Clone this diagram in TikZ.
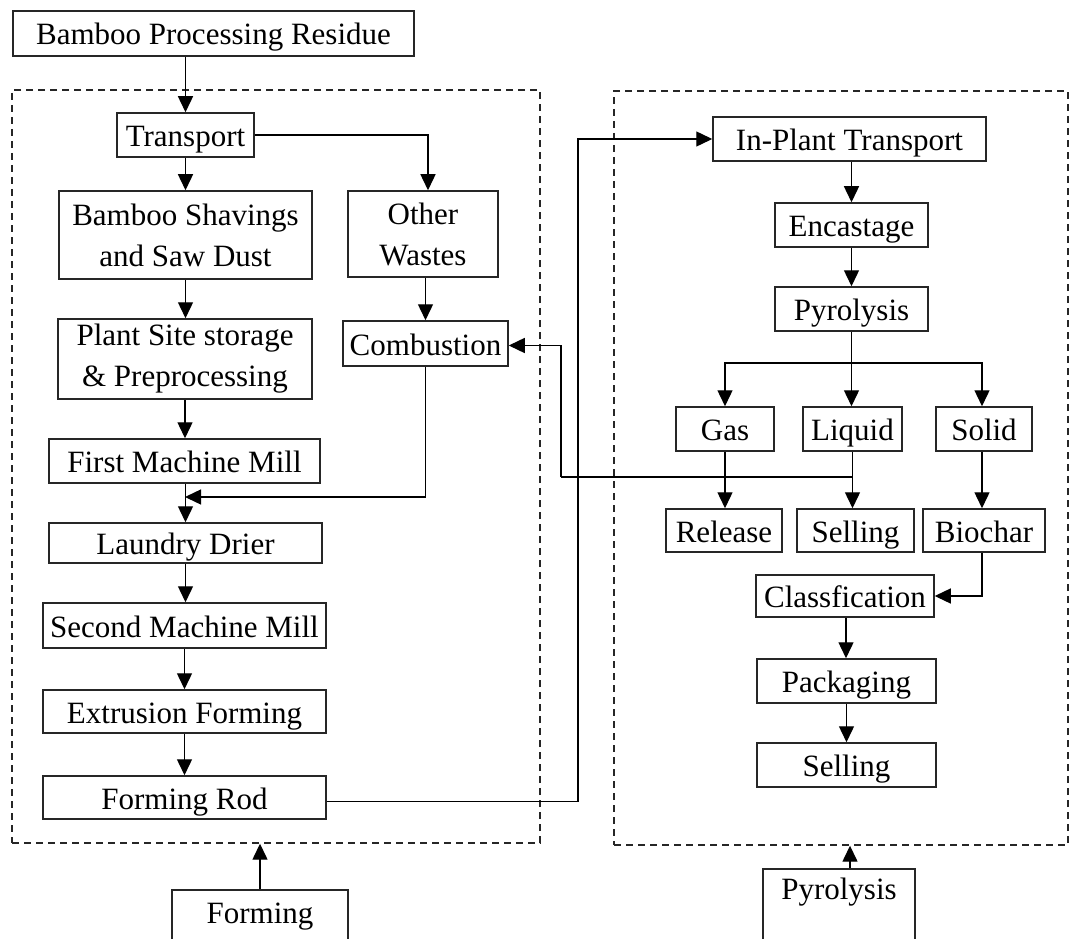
\documentclass[tikz,border=0pt]{standalone}
\usepackage{fontspec}
\setmainfont{Liberation Serif}
\usetikzlibrary{arrows.meta}
\begin{document}
\begin{tikzpicture}[x=1pt,y=-1pt,
  box/.style={draw=black!85, line width=1.5pt, fill=white, inner sep=0pt, align=center, font=\fontsize{31}{41}\selectfont},
  one/.style={box, text height=23pt, text depth=0pt},
  grp/.style={draw=black!85, line width=1.4pt, dash pattern=on 7pt off 5pt, inner sep=0pt},
  arr/.style={line width=1.4pt, -{Triangle[length=16pt,width=15pt]}},
  ln/.style={line width=1.4pt}]
\useasboundingbox (0,0) rectangle (1074,939);
\clip (0,0) rectangle (1074,939);
% groups
\node[grp, minimum width=528pt, minimum height=753pt] (lgrp) at (276,466.5) {};
\node[grp, minimum width=454pt, minimum height=754pt] (rgrp) at (841,468) {};
% left column
\node[one, minimum width=401pt, minimum height=45pt] (bpr) at (213.5,33.5) {Bamboo Processing Residue};
\node[one, minimum width=137pt, minimum height=44pt] (transport) at (185.5,135) {Transport};
\node[box, minimum width=253pt, minimum height=88pt] (shavings) at (185.5,235) {Bamboo Shavings\\and Saw Dust};
\node[box, minimum width=254pt, minimum height=80pt] (plant) at (185,359) {Plant Site storage\\\& Preprocessing};
\node[box, minimum width=150pt, minimum height=86pt] (other) at (423,234) {Other\\Wastes};
\node[one, minimum width=165pt, minimum height=45pt] (comb) at (425.5,343.5) {Combustion};
\node[one, minimum width=271pt, minimum height=44pt] (fmm) at (184.5,461) {First Machine Mill};
\node[one, minimum width=273pt, minimum height=40pt] (laundry) at (185.5,543) {Laundry Drier};
\node[one, minimum width=283pt, minimum height=45pt] (smm) at (184.5,625.5) {Second Machine Mill};
\node[one, minimum width=283pt, minimum height=43pt] (extr) at (184.5,711.5) {Extrusion Forming};
\node[one, minimum width=283pt, minimum height=43pt] (rod) at (184.5,797.5) {Forming Rod};
\node[box, anchor=north, minimum width=176pt, text height=34pt, text depth=40pt] (forming) at (260,889) {Forming};
% right column
\node[one, minimum width=273pt, minimum height=44pt] (inplant) at (849.5,139) {In-Plant Transport};
\node[one, minimum width=153pt, minimum height=44pt] (encast) at (851.5,225) {Encastage};
\node[one, minimum width=153pt, minimum height=44pt] (pyro) at (851.5,309) {Pyrolysis};
\node[one, minimum width=98pt, minimum height=44pt] (gas) at (725,429) {Gas};
\node[one, minimum width=99pt, minimum height=44pt] (liquid) at (852.5,429) {Liquid};
\node[one, minimum width=96pt, minimum height=44pt] (solid) at (984,429) {Solid};
\node[one, minimum width=116pt, minimum height=43pt] (release) at (724,530.5) {Release};
\node[one, minimum width=117pt, minimum height=43pt] (sell1) at (855.5,530.5) {Selling};
\node[one, minimum width=122pt, minimum height=43pt] (biochar) at (984,530.5) {Biochar};
\node[one, minimum width=178pt, minimum height=42pt] (classf) at (845,596) {Classfication};
\node[one, minimum width=179pt, minimum height=44pt] (pack) at (846.5,681) {Packaging};
\node[one, minimum width=179pt, minimum height=44pt] (sell2) at (846.5,765) {Selling};
\node[box, anchor=north, minimum width=152pt, text height=31pt, text depth=40pt] (pyrb) at (839,868) {Pyrolysis};
% connectors left
\draw[arr] (transport.north |- bpr.south) -- (transport.north);
\draw[arr] (transport.south) -- (shavings.north);
\draw[arr] (transport.east) -| ([xshift=5pt]other.north);
\draw[arr] (shavings.south) -- (plant.north -| shavings.south);
\draw[arr] (plant.south) -- (fmm.north -| plant.south);
\draw[arr] (fmm.south -| laundry.north) -- (laundry.north);
\draw[arr] (comb.north |- other.south) -- (comb.north);
\coordinate (merge) at (185,497);
\draw[arr] (comb.south) |- (merge);
\draw[arr] (laundry.south) -- (smm.north -| laundry.south);
\draw[arr] (smm.south) -- (extr.north);
\draw[arr] (extr.south) -- (rod.north);
\coordinate (rv) at (578,0);
\draw[arr] ([yshift=-4pt]rod.east) -| (rv |- inplant.west) -- (inplant.west);
\draw[arr] (forming.north) -- (forming.north |- lgrp.south);
% connectors right
\draw[arr] (inplant.south -| encast.north) -- (encast.north);
\draw[arr] (encast.south) -- (pyro.north);
\draw[arr] (pyro.south) -- (pyro.south |- liquid.north);
\coordinate (br) at (851.5,363);
\draw[arr] (br) -| (gas.north);
\draw[arr] (br) -| ([xshift=-2pt]solid.north);
\draw[arr] (gas.south) -- (gas.south |- release.north);
\draw[arr] (liquid.south) -- (liquid.south |- sell1.north);
\draw[arr] ([xshift=-2pt]solid.south) -- ([xshift=-2pt]solid.south |- biochar.north);
\draw[ln] (liquid.south |- 0,477) -- (561,477);
\coordinate (fv) at (561,477);
\draw[arr] (fv) |- ([yshift=-2pt]comb.east);
\draw[arr] ([xshift=-2pt]biochar.south) |- (classf.east);
\draw[arr] (classf.south -| 846,0) -- (pack.north -| 846,0);
\draw[arr] (pack.south) -- (sell2.north);
\draw[arr] (pyrb.north -| 850,0) -- (rgrp.south -| 850,0);
\end{tikzpicture}
\end{document}
